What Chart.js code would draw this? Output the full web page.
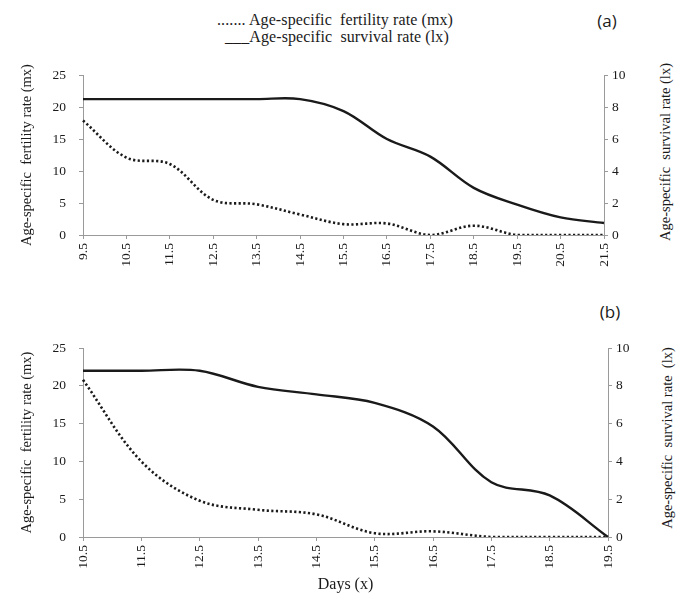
<!DOCTYPE html>
<html>
<head>
<meta charset="utf-8">
<title>Age-specific fertility and survival</title>
<script src="https://cdn.jsdelivr.net/npm/chart.js@4.4.1/dist/chart.umd.min.js"></script>
<style>
    html, body { margin: 0; padding: 0; background: #fff; }
    #page { position: relative; width: 686px; height: 594px; overflow: hidden;
            font-family: "Liberation Serif", "Times New Roman", serif; color: #1a1a1a; }
    .legend-line { position: absolute; font-size: 16px; letter-spacing: 0.1px; line-height: 17px; white-space: pre; }
    .panel-tag { position: absolute; font-family: "Open Sans", "Liberation Sans", sans-serif;
                 font-size: 17px; transform: translate(-50%, -50%); }
    .right-title { position: absolute; font-size: 14.5px; white-space: pre;
                   transform: translate(-50%, -50%) rotate(-90deg); }
    canvas { position: absolute; left: 0; }
</style>
</head>
<body>
<div id="page">
    <div class="legend-line" style="left:217px; top:11px;">....... Age-specific  fertility rate (mx)</div>
    <div class="legend-line" style="left:225px; top:28px;">___Age-specific  survival rate (lx)</div>
    <div class="panel-tag" style="left:607px; top:20px;">(a)</div>
    <div class="panel-tag" style="left:610px; top:311px;">(b)</div>
    <div class="right-title" style="left:665px; top:152px;">Age-specific  survival rate (lx)</div>
    <div class="right-title" style="left:667px; top:438px;">Age-specific  survival rate  (lx)</div>
    <canvas id="chartA" width="686" height="221" style="top:54px; width:686px; height:221px;"></canvas>
    <canvas id="chartB" width="686" height="267" style="top:327px; width:686px; height:267px;"></canvas>
</div>

<script>
/*==============================================================
    DATA
==============================================================*/
const daysA = ["9.5", "10.5", "11.5", "12.5", "13.5", "14.5", "15.5",
               "16.5", "17.5", "18.5", "19.5", "20.5", "21.5"];
const fertilityA = [17.9, 12.1, 11.1, 5.5, 4.8, 3.2, 1.7, 1.8, 0, 1.45, 0, 0, 0];
const survivalA  = [8.5, 8.5, 8.5, 8.5, 8.5, 8.5, 7.75, 6.0, 4.9, 2.95, 1.9, 1.1, 0.75];

const daysB = ["10.5", "11.5", "12.5", "13.5", "14.5", "15.5",
               "16.5", "17.5", "18.5", "19.5"];
const fertilityB = [20.8, 10.0, 4.8, 3.6, 3.0, 0.5, 0.75, 0, 0, 0];
const survivalB  = [8.8, 8.8, 8.8, 7.95, 7.55, 7.1, 5.85, 2.9, 2.2, 0];

const fertilityRange = [0, 25, 5];   // min, max, step
const survivalRange  = [0, 10, 2];

/*==============================================================
    INITIALIZE
==============================================================*/
const AXIS_GREY = "#9a9a9a";
const INK = "#1a1a1a";
const SERIF = "'Liberation Serif', 'Times New Roman', serif";

Chart.defaults.font.family = SERIF;
Chart.defaults.color = INK;

buildPanel("chartA", daysA, fertilityA, survivalA, { rightWidth: 82, xHeight: 40, xTitle: null });
buildPanel("chartB", daysB, fertilityB, survivalB, { rightWidth: 78, xHeight: 57, xTitle: "Days (x)" });

/*==============================================================
    PANEL
==============================================================*/
function serif(size) {
    return { family: SERIF, size: size };
}

function buildPanel(id, labels, mx, lx, opts) {
    const ctx = document.getElementById(id);
    new Chart(ctx, {
        type: "line",
        data: {
            labels: labels,
            datasets: [{
                label: "Age-specific survival rate (lx)",
                data: lx,
                yAxisID: "y1",
                borderColor: INK,
                borderWidth: 2.4,
                pointRadius: 0,
                tension: 0.35,
                fill: false
            }, {
                label: "Age-specific fertility rate (mx)",
                data: mx,
                yAxisID: "y",
                borderColor: INK,
                borderWidth: 2.6,
                borderDash: [2.2, 2.4],
                borderCapStyle: "butt",
                pointRadius: 0,
                tension: 0.35,
                fill: false
            }]
        },
        options: {
            responsive: false,
            animation: false,
            layout: { padding: { top: 10, left: 0, right: 0, bottom: 0 } },
            plugins: {
                legend: { display: false },
                tooltip: { enabled: false }
            },
            scales: {
                x: {
                    type: "category",
                    offset: false,
                    grid: { drawOnChartArea: false, tickLength: 4, color: AXIS_GREY },
                    border: { color: AXIS_GREY },
                    ticks: { minRotation: 90, maxRotation: 90, autoSkip: false,
                             padding: 4, font: serif(13.5), color: INK },
                    title: {
                        display: !!opts.xTitle,
                        text: opts.xTitle || "",
                        font: serif(16),
                        color: INK,
                        padding: { top: 0, bottom: 0 }
                    },
                    afterFit: function (s) { s.height = opts.xHeight; }
                },
                y: {
                    position: "left",
                    min: fertilityRange[0],
                    max: fertilityRange[1],
                    ticks: { stepSize: fertilityRange[2], padding: 13, font: serif(13.5), color: INK },
                    grid: { drawOnChartArea: false, tickLength: 4, color: AXIS_GREY },
                    border: { color: AXIS_GREY },
                    title: {
                        display: true,
                        text: "Age-specific  fertility rate (mx)",
                        font: serif(14.5),
                        color: INK,
                        padding: { top: 18, bottom: 0 }
                    },
                    afterFit: function (s) { s.width = 83; }
                },
                y1: {
                    position: "right",
                    min: survivalRange[0],
                    max: survivalRange[1],
                    ticks: { stepSize: survivalRange[2], padding: 4, font: serif(13.5), color: INK },
                    grid: { drawOnChartArea: false, tickLength: 4, color: AXIS_GREY },
                    border: { color: AXIS_GREY },
                    afterFit: function (s) { s.width = opts.rightWidth; }
                }
            }
        }
    });
}
</script>
</body>
</html>
